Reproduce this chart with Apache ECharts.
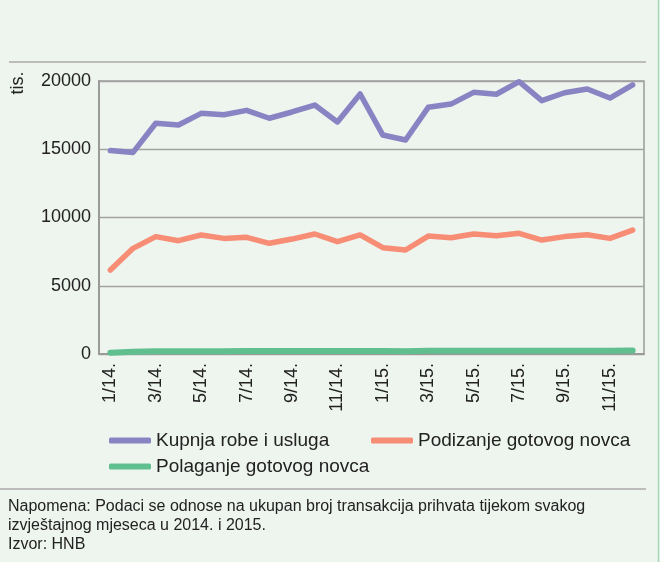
<!DOCTYPE html>
<html>
<head>
<meta charset="utf-8">
<script src="https://cdn.jsdelivr.net/npm/echarts@6/dist/echarts.min.js"></script>
<style>
html,body{margin:0;padding:0;background:#eef4ee;}
#c{width:660px;height:562px;}
</style>
</head>
<body>
<div id="c"></div>
<script>
const categories = ['1/14.','2/14.','3/14.','4/14.','5/14.','6/14.','7/14.','8/14.','9/14.','10/14.','11/14.','12/14.',
  '1/15.','2/15.','3/15.','4/15.','5/15.','6/15.','7/15.','8/15.','9/15.','10/15.','11/15.','12/15.'];
const kupnja = [14900,14770,16900,16780,17630,17530,17850,17270,17730,18240,17000,19050,
  16040,15680,18070,18310,19170,19030,19950,18560,19140,19410,18750,19710];
const podizanje = [6150,7740,8600,8300,8720,8470,8550,8110,8420,8790,8230,8720,
  7790,7620,8640,8520,8790,8670,8840,8350,8600,8740,8470,9080];
const polaganje = [100,170,200,210,210,210,215,215,220,220,215,220,
  215,210,230,230,235,235,240,235,240,240,245,250];
const seriesNames = ['Kupnja robe i usluga','Podizanje gotovog novca','Polaganje gotovog novca'];
const yTicks = [0,5000,10000,15000,20000];
const unitLabel = 'tis.';
const noteText = 'Napomena: Podaci se odnose na ukupan broj transakcija prihvata tijekom svakog\nizvještajnog mjeseca u 2014. i 2015.\nIzvor: HNB';

const colors = ['#8a83c3','#f78d75','#5fbf8e'];
const font = 'Liberation Sans, Arial, Helvetica, sans-serif';
const chart = echarts.init(document.getElementById('c'), null, {renderer:'canvas'});

function legendFor(name, left, top){
  return {
    data:[name], left:left, top:top, padding:0, itemGap:0,
    icon:'roundRect', itemWidth:42, itemHeight:6,
    textStyle:{fontFamily:font, fontSize:19, color:'#222', padding:[0,0,0,0]},
    selectedMode:false
  };
}

const option = {
  backgroundColor:'#eef4ee',
  animation:false,
  grid:{left:99, right:16, top:81, bottom:208, show:true, borderColor:'#9a9a9a', borderWidth:1.5, backgroundColor:'transparent'},
  xAxis:{
    type:'category', data:categories, boundaryGap:true,
    axisLine:{show:true, lineStyle:{color:'#9a9a9a', width:2}},
    axisTick:{show:false},
    axisLabel:{interval:1, rotate:90, margin:9, color:'#222', fontFamily:font, fontSize:18},
    splitLine:{show:false}
  },
  yAxis:{
    type:'value', min:yTicks[0], max:yTicks[yTicks.length-1], interval:5000,
    axisLine:{show:true, lineStyle:{color:'#9a9a9a', width:2}},
    axisTick:{show:false},
    axisLabel:{margin:8, color:'#222', fontFamily:font, fontSize:18, formatter:function(v){return String(v);}},
    splitLine:{show:true, lineStyle:{color:'#a3a3a3', width:1.3}}
  },
  legend:[
    legendFor(seriesNames[0], 109, 431),
    legendFor(seriesNames[1], 371, 431),
    legendFor(seriesNames[2], 109, 457)
  ],
  series:[
    {name:seriesNames[0], type:'line', data:kupnja, showSymbol:false, color:colors[0],
     lineStyle:{width:5.5, cap:'round', join:'round', color:colors[0]}},
    {name:seriesNames[1], type:'line', data:podizanje, showSymbol:false, color:colors[1],
     lineStyle:{width:5.5, cap:'round', join:'round', color:colors[1]}},
    {name:seriesNames[2], type:'line', data:polaganje, showSymbol:false, color:colors[2],
     lineStyle:{width:6, cap:'round', join:'round', color:colors[2]}}
  ],
  graphic:[
    {type:'line', shape:{x1:9, y1:62, x2:646, y2:62}, style:{stroke:'#bcbcbc', lineWidth:2}},
    {type:'line', shape:{x1:0, y1:489, x2:646, y2:489}, style:{stroke:'#bcbcbc', lineWidth:2}},
    {type:'line', shape:{x1:658.5, y1:0, x2:658.5, y2:562}, style:{stroke:'#a9d9bb', lineWidth:1.5}},
    {type:'text', x:18, y:83, rotation:Math.PI/2,
     style:{text:unitLabel, fill:'#222', font:'18px ' + font, textAlign:'center', textVerticalAlign:'middle'}},
    {type:'text', x:8, y:497,
     style:{text:noteText, fill:'#222', font:'16px ' + font, lineHeight:19, textAlign:'left', textVerticalAlign:'top'}}
  ]
};
chart.setOption(option);
</script>
</body>
</html>
